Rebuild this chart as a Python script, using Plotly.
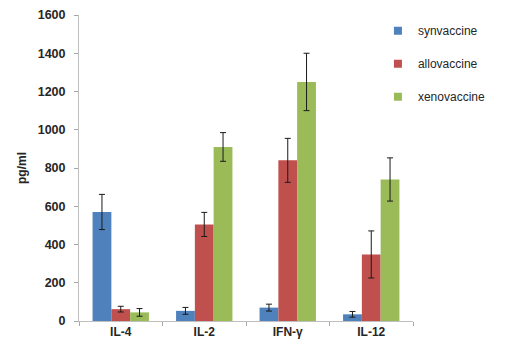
import plotly.graph_objects as go

categories = ["IL-4", "IL-2", "IFN-γ", "IL-12"]
series_names = ["synvaccine", "allovaccine", "xenovaccine"]
synvaccine = [570, 53, 70, 35]
synvaccine_err = [92, 18, 18, 15]
allovaccine = [62, 505, 840, 348]
allovaccine_err = [15, 63, 115, 123]
xenovaccine = [45, 910, 1250, 740]
xenovaccine_err = [20, 75, 150, 113]
y_ticks = [0, 200, 400, 600, 800, 1000, 1200, 1400, 1600]

colors = ["#4F81BD", "#C0504D", "#9BBB59"]
values = [synvaccine, allovaccine, xenovaccine]
errors = [synvaccine_err, allovaccine_err, xenovaccine_err]

fig = go.Figure()
for name, vals, errs, col in zip(series_names, values, errors, colors):
    fig.add_trace(go.Bar(
        x=categories, y=vals, name=name,
        marker=dict(color=col, line=dict(width=0)),
        error_y=dict(type="data", array=errs, visible=True, color="#1a1a1a", thickness=1, width=3),
        showlegend=False,
    ))
    fig.add_trace(go.Scatter(
        x=[None], y=[None], mode="markers", name=name, legendgroup=name,
        marker=dict(symbol="square", size=8, color=col),
    ))

font_family = "Liberation Sans, Arial, sans-serif"
fig.update_layout(
    width=516, height=348,
    margin=dict(l=71, r=111, t=7, b=34.5, autoexpand=False),
    paper_bgcolor="white", plot_bgcolor="white",
    barmode="group", bargap=0.325, bargroupgap=0,
    font=dict(family=font_family, color="#262626"),
    legend=dict(
        x=0.895, y=0.996, xanchor="left", yanchor="top",
        traceorder="grouped", tracegroupgap=14,
        font=dict(size=12, color="#262626", family=font_family),
        bgcolor="rgba(0,0,0,0)", itemwidth=30,
    ),
    xaxis=dict(
        type="category", tickson="boundaries", ticks="outside", ticklen=4,
        tickcolor="#A6A6A6", showline=True, linecolor="#BFBFBF", linewidth=1,
        showgrid=False, tickfont=dict(size=12, family="Liberation Sans", color="#262626", weight="bold"),
        zeroline=False,
    ),
    yaxis=dict(
        range=[0, 1600], tickvals=y_ticks, ticks="outside", ticklen=4,
        tickcolor="#A6A6A6", showline=True, linecolor="#BFBFBF", linewidth=1,
        showgrid=False, zeroline=False, ticklabelstandoff=6,
        tickfont=dict(size=12.5, family="Liberation Sans", color="#262626", weight="bold"),
        title=dict(text="pg/ml", font=dict(size=12, weight="bold", color="#262626"), standoff=8),
    ),
)
fig.write_html("out.html")
